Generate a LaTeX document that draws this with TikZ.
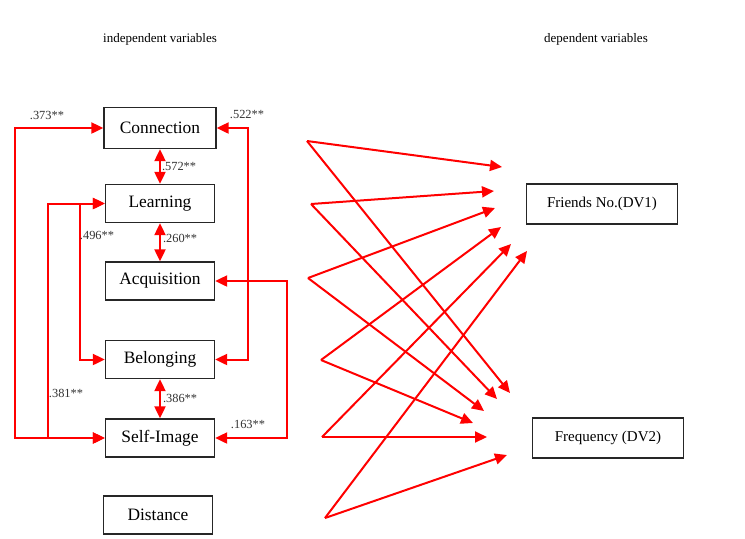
\documentclass[tikz,border=0pt]{standalone}
\usepackage{fontspec}
\setmainfont{Liberation Serif}
\usetikzlibrary{arrows.meta}

\begin{document}
\begin{tikzpicture}[
  x = 0.5pt, y = -0.5pt,
  ivbox/.style = {
    shape = rectangle,
    draw = black!85,
    line width = 0.65pt,
    minimum width = 54.5pt,
    minimum height = 19pt,
    inner sep = 0pt,
    font = \fontsize{8.7}{10}\selectfont,
  },
  dvbox/.style = {
    ivbox,
    minimum width = 75.5pt,
    minimum height = 20pt,
    font = \fontsize{7.5}{9}\selectfont,
  },
  coef/.style = {
    inner sep = 0pt,
    text = black!80,
    font = \fontsize{6.2}{7}\selectfont,
  },
  heading/.style = {
    inner sep = 0pt,
    font = \fontsize{6.5}{8}\selectfont,
  },
  link/.style = {
    draw = red,
    line width = 1pt,
    -{Triangle[length = 6pt, width = 5.5pt]},
  },
  dbl/.style = {
    link,
    {Triangle[length = 6pt, width = 5.5pt]}-{Triangle[length = 6pt, width = 5.5pt]},
  }
]
  \useasboundingbox (0, 0) rectangle (745, 538);

  \node[heading] (ivtitle) at (160, 39) {independent variables};
  \node[heading] (dvtitle) at (596, 39) {dependent variables};

  \node[ivbox, minimum width = 56pt, minimum height = 20.5pt] (con) at (160, 128) {Connection};
  \node[ivbox] (lrn) at (160, 203.5) {Learning};
  \node[ivbox] (acq) at (160, 281) {Acquisition};
  \node[ivbox] (bel) at (160, 359.5) {Belonging};
  \node[ivbox] (img) at (160, 438) {Self-Image};
  \node[ivbox] (dst) at (158, 515) {Distance};

  \node[dvbox] (dv1) at (602, 204) {Friends No.(DV1)};
  \node[dvbox] (dv2) at (608, 438) {Frequency (DV2)};

  % correlations among the independent variables
  \draw[dbl] (con.south) -- (lrn.north) node[coef, midway, right = 0.5pt] {.572**};
  \draw[dbl] (lrn.south) -- (acq.north) node[coef, pos = 0.4, right = 1pt] {.260**};
  \draw[dbl] (bel.south) -- (img.north) node[coef, midway, right = 1pt] {.386**};

  \draw[dbl] (con.west) -- ++(-88, 0) |- (img.west);
  \draw[dbl] (lrn.west) -- ++(-57, 0) |- (img.west);
  \draw[dbl] (lrn.west) -- ++(-25, 0) |- (bel.west);
  \draw[dbl] (con.east) -- ++(31, 0) |- (bel.east);
  \draw[dbl] (acq.east) -- ++(72, 0) |- (img.east);

  \node[coef] (c373) at (47, 115) {.373**};
  \node[coef] (c522) at (247, 114) {.522**};
  \node[coef] (c496) at (97, 235) {.496**};
  \node[coef] (c381) at (66, 393) {.381**};
  \node[coef] (c163) at (248, 424) {.163**};

  % paths to the dependent variables
  \coordinate (s1) at (307, 141);
  \coordinate (s2) at (311, 204);
  \coordinate (s3) at (308, 278);
  \coordinate (s4) at (321, 360);
  \coordinate (s5) at (322, 437);
  \coordinate (s6) at (325, 518);

  \coordinate (f1) at (502, 167);
  \coordinate (f2) at (494, 191);
  \coordinate (f3) at (495, 208);
  \coordinate (f4) at (501, 227);
  \coordinate (f5) at (511, 244);
  \coordinate (f6) at (527, 251);

  \coordinate (q1) at (510, 393);
  \coordinate (q2) at (497, 399);
  \coordinate (q3) at (484, 411);
  \coordinate (q4) at (473, 423);
  \coordinate (q5) at (487, 437);
  \coordinate (q6) at (507, 455);

  \draw[link] (s1) -- (f1);
  \draw[link] (s1) -- (q1);
  \draw[link] (s2) -- (f2);
  \draw[link] (s2) -- (q2);
  \draw[link] (s3) -- (f3);
  \draw[link] (s3) -- (q3);
  \draw[link] (s4) -- (f4);
  \draw[link] (s4) -- (q4);
  \draw[link] (s5) -- (f5);
  \draw[link] (s5) -- (q5);
  \draw[link] (s6) -- (f6);
  \draw[link] (s6) -- (q6);
\end{tikzpicture}
\end{document}
